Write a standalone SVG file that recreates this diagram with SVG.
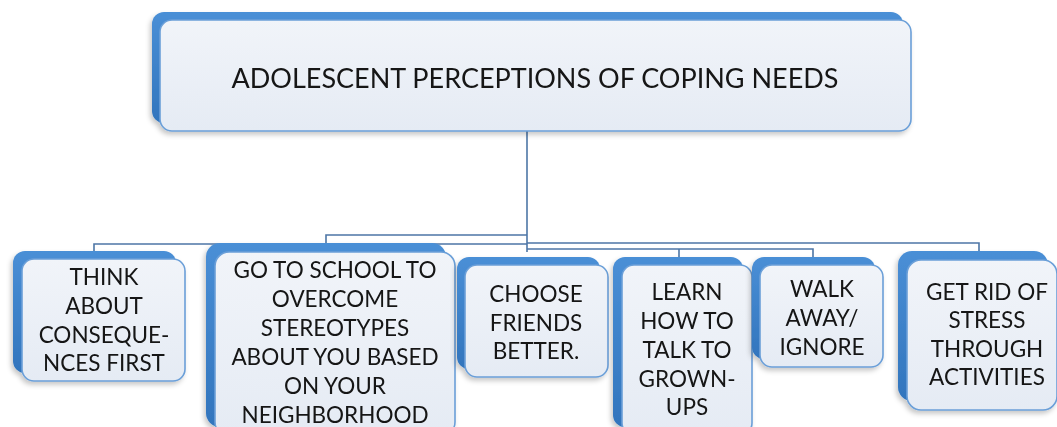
<svg xmlns="http://www.w3.org/2000/svg" width="1057" height="427" viewBox="0 0 1057 427">
<defs>
<linearGradient id="blue" x1="0" y1="0" x2="0" y2="1">
<stop offset="0" stop-color="#4a8fd6"/>
<stop offset="1" stop-color="#3275bd"/>
</linearGradient>
<linearGradient id="face" x1="0" y1="0" x2="0" y2="1">
<stop offset="0" stop-color="#f1f4f9"/>
<stop offset="1" stop-color="#e5ebf4"/>
</linearGradient>
<filter id="sh" x="-10%" y="-10%" width="120%" height="130%">
<feDropShadow dx="-2" dy="3" stdDeviation="2.5" flood-color="#000" flood-opacity="0.22"/>
</filter>
</defs>
<style>
.back{fill:url(#blue);}
.face{fill:url(#face);stroke:#6b9fd8;stroke-width:1.6;}
.t{font-family:Lato,"Open Sans","Liberation Sans",sans-serif;font-size:22.5px;fill:#141414;text-anchor:middle;}
.title{font-size:27px;}
.c{fill:none;stroke:#4d76a6;stroke-width:1.6;}
</style>
<rect width="1057" height="427" fill="#ffffff"/>
<g id="connectors">
<path class="c" d="M527 131 V252"/>
<path class="c" d="M527 244 H94 V253"/>
<path class="c" d="M527 235 H326 V244"/>
<path class="c" d="M527 243 H979 V252"/>
<path class="c" d="M527 249 H813 V258"/>
<path class="c" d="M679 249 V258"/>
</g>
<g id="root" filter="url(#sh)">
<rect class="back" x="152" y="12" width="751" height="111" rx="12"/>
<rect class="face" x="160" y="20" width="751" height="111" rx="12"/>
<text class="t title" x="535" y="88">ADOLESCENT PERCEPTIONS OF COPING NEEDS</text>
</g>
<g id="think" filter="url(#sh)">
<rect class="back" x="13" y="251" width="163" height="122" rx="12"/>
<rect class="face" x="22" y="259" width="163" height="122" rx="12"/>
<text class="t" x="104" y="285">THINK</text>
<text class="t" x="104" y="314">ABOUT</text>
<text class="t" x="104" y="343">CONSEQUE-</text>
<text class="t" x="104" y="371">NCES FIRST</text>
</g>
<g id="school" filter="url(#sh)">
<rect class="back" x="206" y="243" width="240" height="184" rx="14"/>
<rect class="face" x="215" y="252" width="240" height="184" rx="14"/>
<text class="t" x="335" y="278">GO TO SCHOOL TO</text>
<text class="t" x="335" y="307">OVERCOME</text>
<text class="t" x="335" y="336">STEREOTYPES</text>
<text class="t" x="335" y="365">ABOUT YOU BASED</text>
<text class="t" x="335" y="394">ON YOUR</text>
<text class="t" x="335" y="423">NEIGHBORHOOD</text>
</g>
<g id="choose" filter="url(#sh)">
<rect class="back" x="457" y="257" width="143" height="112" rx="12"/>
<rect class="face" x="465" y="265" width="143" height="112" rx="12"/>
<text class="t" x="536" y="302">CHOOSE</text>
<text class="t" x="536" y="331">FRIENDS</text>
<text class="t" x="536" y="359">BETTER.</text>
</g>
<g id="learn" filter="url(#sh)">
<rect class="back" x="613" y="257" width="130" height="170" rx="12"/>
<rect class="face" x="622" y="265" width="130" height="170" rx="12"/>
<text class="t" x="687" y="300">LEARN</text>
<text class="t" x="687" y="329">HOW TO</text>
<text class="t" x="687" y="358">TALK TO</text>
<text class="t" x="687" y="387">GROWN-</text>
<text class="t" x="687" y="415">UPS</text>
</g>
<g id="walk" filter="url(#sh)">
<rect class="back" x="752" y="257" width="123" height="102" rx="12"/>
<rect class="face" x="760" y="265" width="123" height="102" rx="12"/>
<text class="t" x="822" y="297">WALK</text>
<text class="t" x="822" y="326">AWAY/</text>
<text class="t" x="822" y="355">IGNORE</text>
</g>
<g id="stress" filter="url(#sh)">
<rect class="back" x="898" y="251" width="150" height="150" rx="14"/>
<rect class="face" x="907" y="260" width="150" height="150" rx="14"/>
<text class="t" x="987" y="300">GET RID OF</text>
<text class="t" x="987" y="328">STRESS</text>
<text class="t" x="987" y="357">THROUGH</text>
<text class="t" x="987" y="385">ACTIVITIES</text>
</g>
</svg>
